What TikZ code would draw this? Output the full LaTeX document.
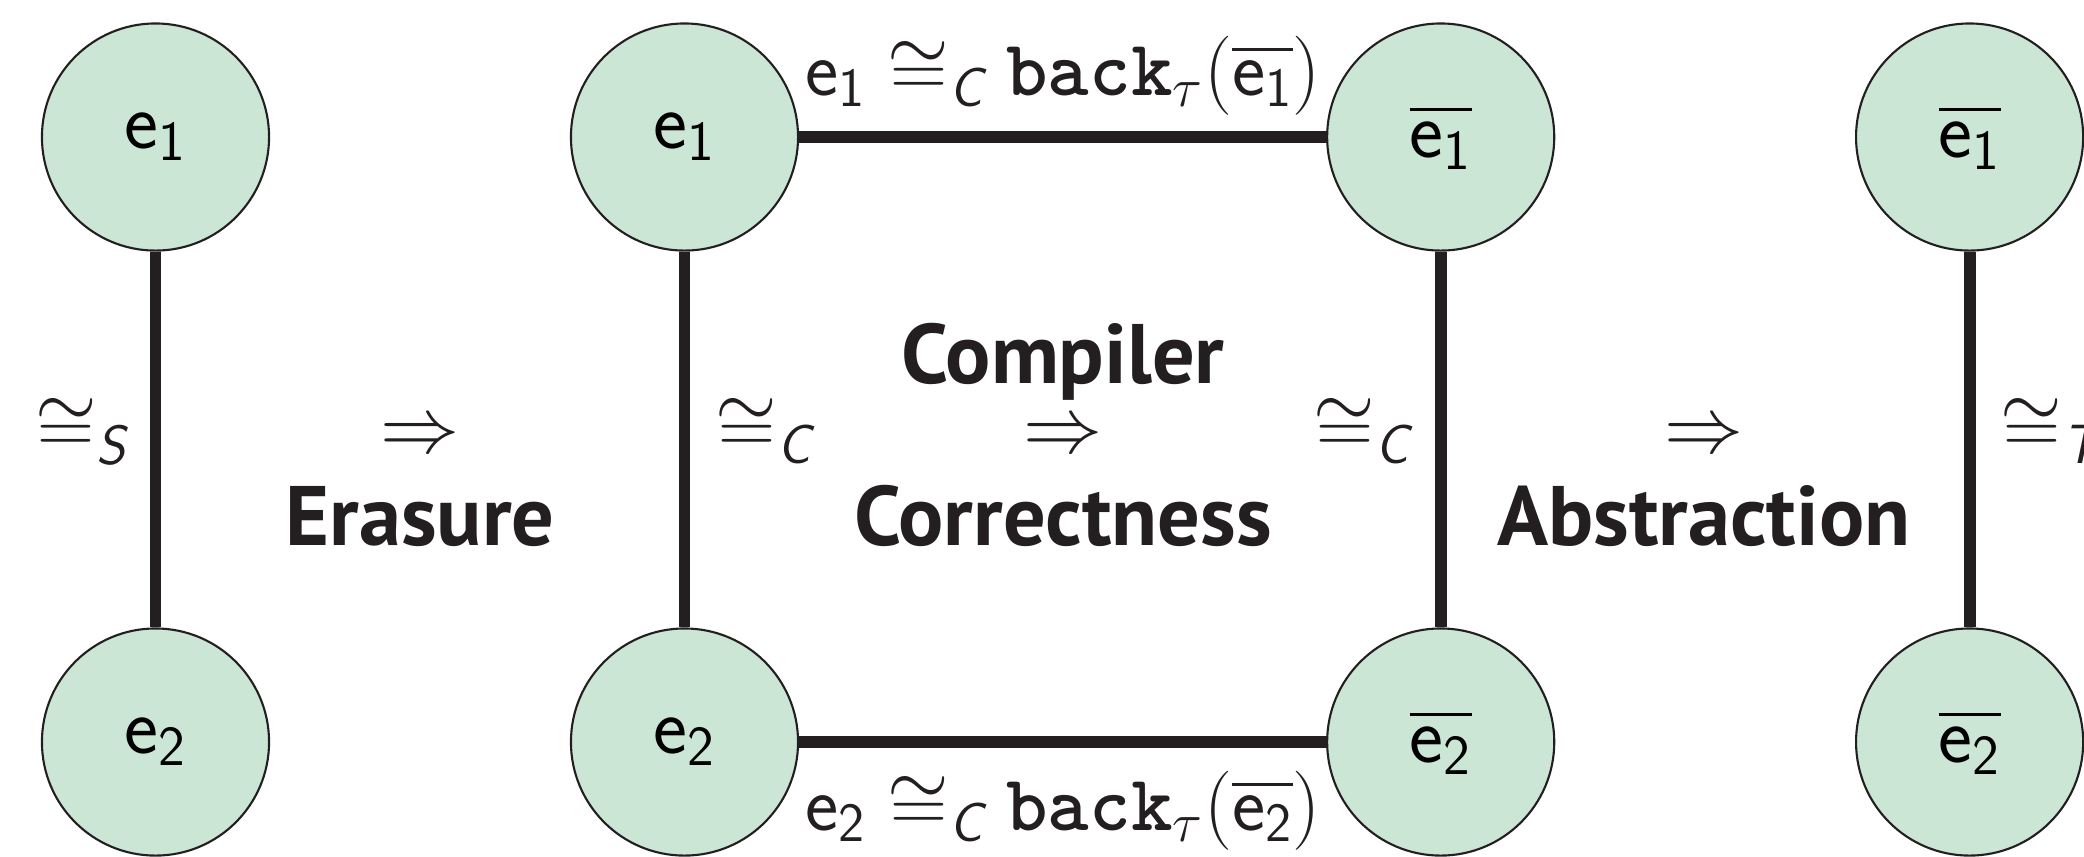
\RequirePackage{fix-cm}
\documentclass[tikz,border=0pt]{standalone}
\usepackage{amsmath}
\usepackage{fontspec}
\newfontfamily\labfont{PT Sans}
\definecolor{nodefill}{RGB}{203,230,213}
\definecolor{ink}{RGB}{35,31,32}
% expression names and the equivalence relations
\newcommand{\ex}[1]{\textsf{e}_{\textsf{#1}}}
\newcommand{\eb}[1]{\overline{\ex{#1}}}
\newcommand{\rel}[1]{\cong_{\textsf{\itshape #1}}}
\newcommand{\backt}{\texttt{\bfseries back}_{\tau}}
\begin{document}
\begin{tikzpicture}[x=0.01cm,y=-0.01cm,
  term/.style={circle, draw=ink, line width=0.6pt, fill=nodefill,
    minimum size=2.27cm, inner sep=0pt, font=\fontsize{23}{27}\selectfont},
  link/.style={draw=ink, line width=3.4pt},
  rellab/.style={font=\fontsize{22.5}{27}\selectfont, inner sep=0pt, text=ink},
  stepname/.style={font=\labfont\bfseries\fontsize{24}{28}\selectfont,
    inner sep=0pt, text=ink}]
\useasboundingbox (0,0) rectangle (2084,856);
\clip (0,0) rectangle (2084,856);

% terms
\node[term] (s1) at (155.5,137) {$\ex1$};
\node[term] (s2) at (155.5,742) {$\ex2$};
\node[term] (c1) at (684.5,137) {$\ex1$};
\node[term] (c2) at (684.5,742) {$\ex2$};
\node[term] (t1) at (1440.7,137) {$\eb1$};
\node[term] (t2) at (1440.7,742) {$\eb2$};
\node[term] (a1) at (1969.6,137) {$\eb1$};
\node[term] (a2) at (1969.6,742) {$\eb2$};

% relations
\draw[link] (s1) -- (s2);
\draw[link] (c1) -- (c2);
\draw[link] (t1) -- (t2);
\draw[link] (a1) -- (a2);
\draw[link] (c1) -- (t1);
\draw[link] (c2) -- (t2);

% relation labels
\node[rellab, anchor=base east] (relS) at (128,452) {$\rel S$};
\node[rellab, anchor=base west] (relC1) at (715,452) {$\rel C$};
\node[rellab, anchor=base east] (relC2) at (1411,452) {$\rel C$};
\node[rellab, anchor=base west] (relT) at (2000,452) {$\rel T$};
\node[rellab, anchor=base] (topeq) at (1063,95) {$\ex1 \rel C \backt(\eb1)$};
\node[rellab, anchor=base] (boteq) at (1063,830) {$\ex2 \rel C \backt(\eb2)$};

% proof steps
\node[rellab] (imp1) at (420,438) {$\Rightarrow$};
\node[stepname, anchor=base] (erase) at (420,545) {Erasure};
\node[stepname, anchor=base] (comp) at (1063,383) {Compiler};
\node[rellab] (imp2) at (1063,438) {$\Rightarrow$};
\node[stepname, anchor=base] (corr) at (1063,545) {Correctness};
\node[rellab] (imp3) at (1704,438) {$\Rightarrow$};
\node[stepname, anchor=base] (abs) at (1704,545) {Abstraction};
\end{tikzpicture}
\end{document}
